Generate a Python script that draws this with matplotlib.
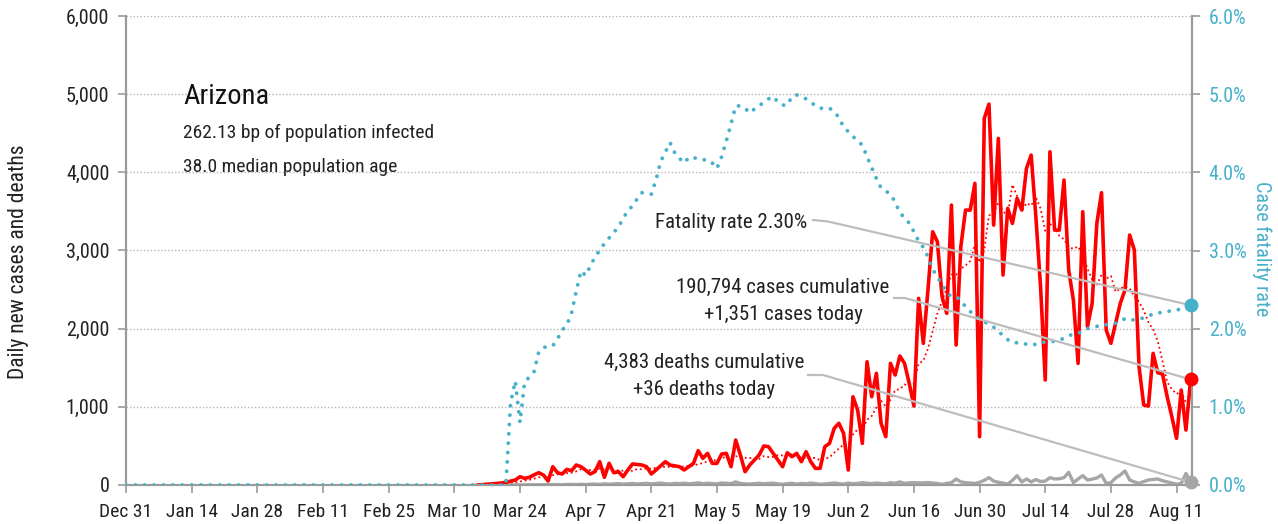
import numpy as np
import pandas as pd
import matplotlib.pyplot as plt
import matplotlib.dates as mdates

plt.rcParams['font.family'] = ['Roboto Condensed', 'Liberation Sans', 'DejaVu Sans']

# --- data ---
first_day = pd.Timestamp('2019-12-31')
last_day = pd.Timestamp('2020-08-14')

# daily new cases from Mar 15
cases_start = pd.Timestamp('2020-03-15')
daily_cases = [
    0, 5, 10, 15, 20, 25, 35, 50, 64, 106, 85, 98, 130, 157, 128, 51,
    234, 157, 141, 200, 183, 256, 234, 190, 141, 170, 298, 98, 277, 157,
    170, 106, 192, 269, 262, 256, 234, 141, 192, 245, 298, 256, 245, 234,
    192, 234, 277, 439, 341, 405, 277, 277, 396, 405, 234, 575, 384, 170,
    256, 320, 384, 499, 490, 405, 320, 234, 413, 362, 405, 298, 426, 298,
    213, 213, 490, 533, 725, 789, 661, 192, 1129, 959, 533, 1577, 1129,
    1428, 789, 618, 1556, 1407, 1650, 1556, 1300, 1010, 2388, 1812, 2500,
    3240, 3112, 2409, 2196, 3581, 1791, 3048, 3517, 3517, 3859, 618, 4690,
    4873, 3325, 4434, 2686, 3539, 3347, 3667, 3517, 4051, 4221, 3432, 2536,
    1343, 4263, 3261, 3261, 3901, 2750, 2366, 1556, 3496, 2025, 2324, 3347,
    3739, 1983, 1812, 2068, 2324, 2494, 3198, 3006, 1513, 1023, 1010, 1684,
    1436, 1420, 1129, 873, 597, 1215, 703, 1351,
]

# daily new deaths from Mar 20
deaths_start = pd.Timestamp('2020-03-20')
daily_deaths = [
    0, 1, 0, 1, 2, 1, 3, 2, 4, 3,
    5, 4, 6, 3, 7, 8, 5, 9, 6, 10,
    12, 8, 15, 10, 14, 18, 11, 16, 20, 13,
    17, 22, 14, 19, 25, 16, 12, 21, 18, 24,
    15, 20, 28, 17, 23, 19, 14, 26, 22, 18,
    40, 20, 15, 12, 18, 22, 16, 20, 24, 14,
    10, 18, 22, 12, 20, 15, 25, 18, 10, 14,
    20, 25, 18, 12, 24, 16, 20, 30, 22, 18,
    25, 20, 15, 30, 22, 40, 20, 28, 30, 26,
    28, 32, 25, 20, 8, 22,
    30, 77, 40, 30, 25, 20, 35, 60, 94, 50,
    35, 25, 10, 60, 119, 40, 77, 40, 70, 45,
    50, 94, 77, 80, 94, 162, 30, 77, 120, 64,
    75, 90, 128, 21, 30, 90, 128, 179, 64, 40,
    21, 45, 64, 70, 77, 55, 40, 25, 10, 20,
    149, 36,
]

# case fatality rate (%) from Mar 21
cfr_start = pd.Timestamp('2020-03-21')
cfr_pct = [
    0.0, 1.05, 1.33, 0.8, 1.32, 1.38, 1.45, 1.7, 1.76, 1.77,
    1.78, 1.87, 1.98, 2.05, 2.2, 2.48, 2.74, 2.68, 2.8, 2.92,
    3.0, 3.09, 3.16, 3.23, 3.3, 3.41, 3.51, 3.57, 3.66, 3.74,
    3.73, 3.72, 3.9, 4.14, 4.26, 4.38, 4.25, 4.18, 4.12, 4.19,
    4.19, 4.17, 4.16, 4.16, 4.12, 4.05, 4.2, 4.4, 4.62, 4.85,
    4.85, 4.82, 4.76, 4.81, 4.85, 4.9, 4.94, 4.97, 4.9, 4.86,
    4.86, 4.97, 4.99, 4.97, 4.94, 4.9, 4.85, 4.82, 4.82, 4.82,
    4.78, 4.7, 4.58, 4.52, 4.46, 4.4, 4.35, 4.2, 4.06, 3.92,
    3.8, 3.76, 3.72, 3.62, 3.48, 3.42, 3.35, 3.24, 3.12, 3.04,
    2.92, 2.76, 2.66, 2.57, 2.46, 2.41, 2.41, 2.36, 2.28, 2.22,
    2.17, 2.12, 2.09, 2.05, 2.02, 1.97, 1.91, 1.86, 1.82, 1.82,
    1.82, 1.8, 1.79, 1.8, 1.82, 1.83, 1.83, 1.84, 1.85, 1.88,
    1.91, 1.93, 1.94, 1.97, 2.0, 2.02, 2.03, 2.04, 2.05, 2.06,
    2.07, 2.09, 2.13, 2.12, 2.11, 2.12, 2.14, 2.16, 2.19, 2.2,
    2.21, 2.22, 2.23, 2.24, 2.25, 2.27, 2.30,
]

state = 'Arizona'
infected_bp = '262.13'
median_age = '38.0'
cum_cases = '190,794'
cum_deaths = '4,383'

# --- build series ---
all_days = pd.date_range(first_day, last_day, freq='D')
cases = pd.Series(daily_cases, index=pd.date_range(cases_start, periods=len(daily_cases)))
deaths = pd.Series(daily_deaths, index=pd.date_range(deaths_start, periods=len(daily_deaths)))
cfr = pd.Series(cfr_pct, index=pd.date_range(cfr_start, periods=len(cfr_pct)))
cases_full = cases.reindex(all_days, fill_value=0)
cfr_full = cfr.reindex(all_days, fill_value=0)
cases_avg = cases_full.rolling(7, min_periods=1).mean()

red = '#ff0000'
teal = '#47b0ca'
grey = '#a6a6a6'
spine_col = '#9a9a9a'
lead_col = '#bdbdbd'
txt = '#222222'

W, H = 1278, 524
fig = plt.figure(figsize=(W / 100, H / 100), dpi=100)
ax = fig.add_axes([126 / W, 39 / H, 1066 / W, 469 / H])
ax2 = ax.twinx()

# main axis: cases & deaths
ax.plot(cases_avg.index, cases_avg.values, color=red, lw=1.3, ls=(0, (1, 1.6)), zorder=3)
ax.plot(deaths.index, deaths.values, color=grey, lw=2.4, zorder=3)
ax.plot(cases.index, cases.values, color=red, lw=2.6, zorder=4)

# right axis: fatality rate
ax2.plot(cfr_full.index, cfr_full.values, color=teal, lw=2.8, ls=(0, (0.01, 2.4)),
         dash_capstyle='round', zorder=3)

ax.set_xlim(first_day, last_day + pd.Timedelta(hours=7))
ax.set_ylim(0, 6000)
ax2.set_ylim(0, 6)

ticks = pd.date_range(first_day, last_day, freq='14D')
ax.set_xticks(ticks)
ax.set_xticklabels([f'{d:%b} {d.day}' for d in ticks])
ax.set_yticks(np.arange(0, 6001, 1000))
ax.yaxis.set_major_formatter(plt.FuncFormatter(lambda v, p: f'{v:,.0f}'))
ax2.set_yticks(np.arange(0, 6.1, 1))
ax2.yaxis.set_major_formatter(plt.FuncFormatter(lambda v, p: f'{v:.1f}%'))

ax.grid(axis='y', color='#b5b5b5', ls=(0, (1, 1.5)), lw=1)
for a in (ax, ax2):
    a.spines['top'].set_visible(False)
    for s in ('left', 'right', 'bottom'):
        a.spines[s].set_color(spine_col)
        a.spines[s].set_linewidth(1.5)
ax.tick_params(axis='x', colors=spine_col, labelcolor=txt, labelsize=14, length=6, width=1.2, pad=7)
ax.tick_params(axis='y', colors=spine_col, labelcolor=txt, labelsize=14.5, length=6, width=1.2, pad=6)
ax2.tick_params(axis='y', colors=spine_col, labelcolor=teal, labelsize=14.5, length=6, width=1.2, pad=6)

ax.set_ylabel('Daily new cases and deaths', fontsize=15.5, color=txt, va='center')
ax.yaxis.set_label_coords((19 - 126) / 1066, 0.475)
ax2.set_ylabel('Case fatality rate', fontsize=14.5, color=teal, rotation=270, va='center')
ax2.yaxis.set_label_coords((1262 - 126) / 1066, 0.505)

# end markers
last = cases_full.index[-1]
ax2.plot([last], [cfr_full.iloc[-1]], 'o', ms=9, color=teal, clip_on=False, zorder=6)
ax2.plot([last], [cases_full.iloc[-1]], 'o', ms=9, color=red, clip_on=False, zorder=6,
         transform=ax.transData)
ax2.plot([last], [deaths.iloc[-1]], 'o', ms=9, color=grey, clip_on=False, zorder=6,
         transform=ax.transData)


def px_to_data(a, px, py):
    return a.transData.inverted().transform((px, H - py))


def leader(a, start_px, knee_px, end_xy):
    p0 = px_to_data(a, *start_px)
    p1 = px_to_data(a, *knee_px)
    xe = mdates.date2num(end_xy[0])
    ax2.plot([p0[0], p1[0], xe], [p0[1], p1[1], end_xy[1]], color=lead_col, lw=1.6,
             transform=a.transData, zorder=5, clip_on=False)


leader(ax2, (813, 220), (828, 221.5), (last, cfr_full.iloc[-1]))
leader(ax, (894, 298), (905, 298), (last, cases_full.iloc[-1]))
leader(ax, (808, 375), (823, 375), (last, deaths.iloc[-1]))

fat_rate = cfr_full.iloc[-1]
fs_note = 15
fig.text(807 / W, 1 - 228 / H, f'Fatality rate {fat_rate:.2f}%', ha='right', va='baseline',
         fontsize=fs_note, color=txt)
fig.text(783 / W, 1 - 293 / H, f'{cum_cases} cases cumulative', ha='center', va='baseline',
         fontsize=fs_note, color=txt)
fig.text(783 / W, 1 - 320 / H, f'+{cases_full.iloc[-1]:,} cases today', ha='center',
         va='baseline', fontsize=fs_note, color=txt)
fig.text(704 / W, 1 - 368 / H, f'{cum_deaths} deaths cumulative', ha='center', va='baseline',
         fontsize=fs_note, color=txt)
fig.text(704 / W, 1 - 395 / H, f'+{deaths.iloc[-1]:,} deaths today', ha='center',
         va='baseline', fontsize=fs_note, color=txt)

fig.text(183 / W, 1 - 104 / H, state, ha='left', va='baseline', fontsize=20.5, color='#111111')
fig.text(183 / W, 1 - 138 / H, f'{infected_bp} bp of population infected', ha='left',
         va='baseline', fontsize=14, color=txt)
fig.text(183 / W, 1 - 172 / H, f'{median_age} median population age', ha='left',
         va='baseline', fontsize=14, color=txt)

fig.savefig('out.png', dpi=100)
